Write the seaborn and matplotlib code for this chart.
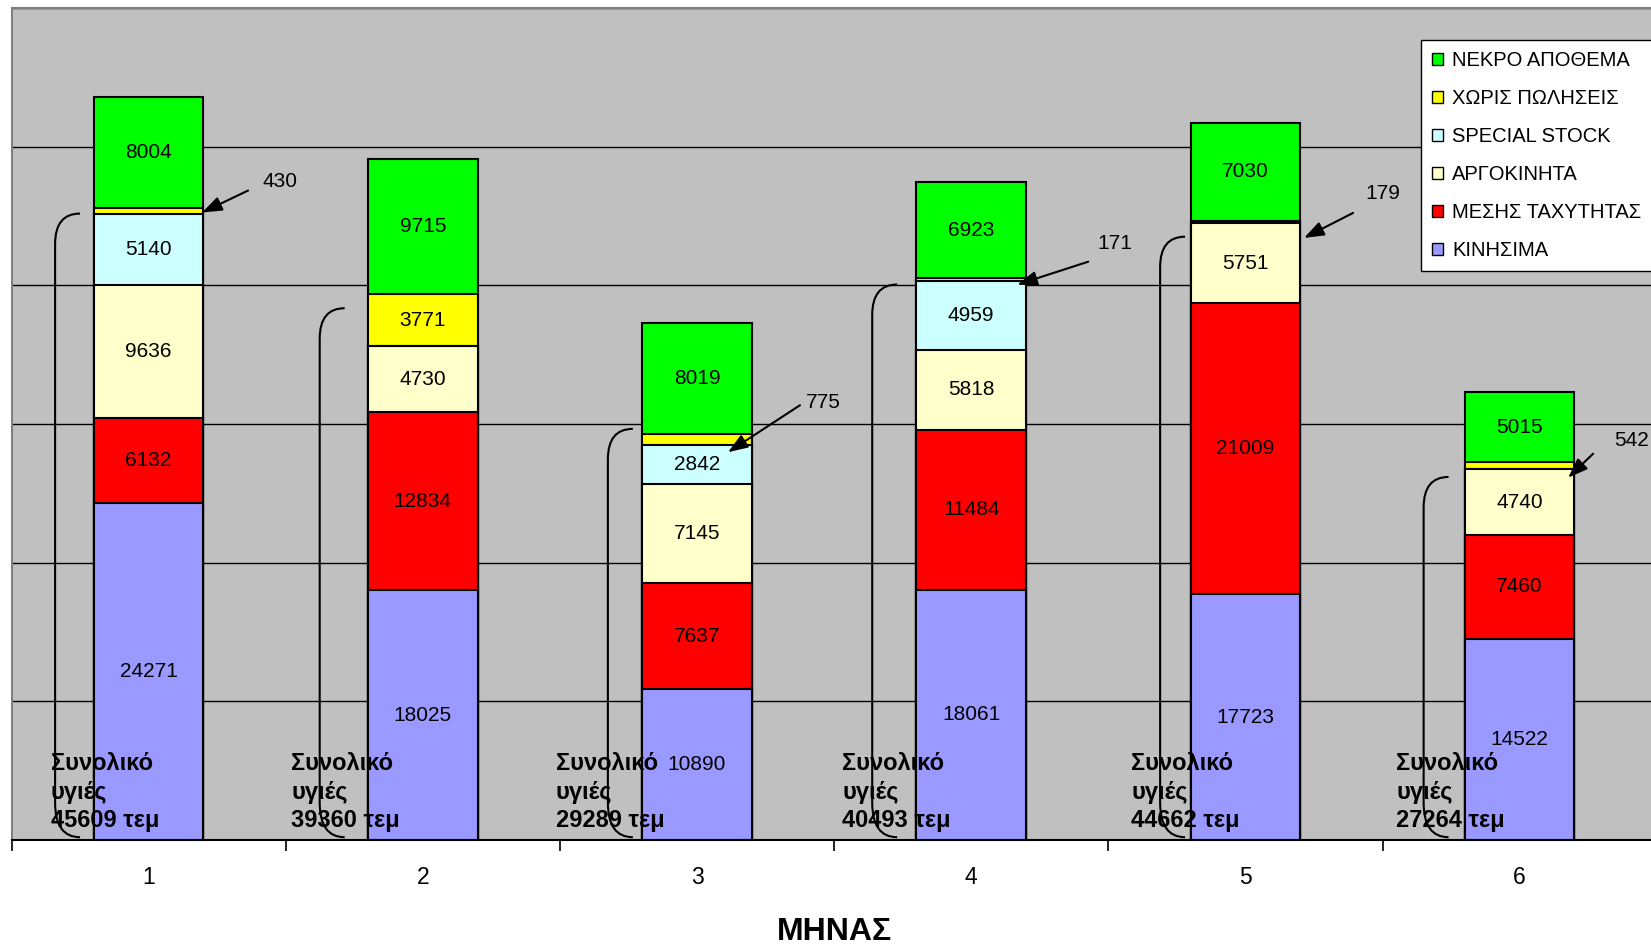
import matplotlib
matplotlib.use("Agg")
import matplotlib.pyplot as plt
import seaborn as sns
import numpy as np
from matplotlib.path import Path
from matplotlib.patches import PathPatch, Patch

# ---------------- data ----------------
months = ["1", "2", "3", "4", "5", "6"]
kinisima = [24271, 18025, 10890, 18061, 17723, 14522]
mesis_taxytitas = [6132, 12834, 7637, 11484, 21009, 7460]
argokinita = [9636, 4730, 7145, 5818, 5751, 4740]
special_stock = [5140, 0, 2842, 4959, 0, 0]
xoris_poliseis = [430, 3771, 775, 171, 179, 542]
nekro_apothema = [8004, 9715, 8019, 6923, 7030, 5015]

series_names = ["ΚΙΝΗΣΙΜΑ", "ΜΕΣΗΣ ΤΑΧΥΤΗΤΑΣ", "ΑΡΓΟΚΙΝΗΤΑ",
                "SPECIAL STOCK", "ΧΩΡΙΣ ΠΩΛΗΣΕΙΣ", "ΝΕΚΡΟ ΑΠΟΘΕΜΑ"]
series_vals = [kinisima, mesis_taxytitas, argokinita,
               special_stock, xoris_poliseis, nekro_apothema]
series_colors = ["#9999FF", "#FF0000", "#FFFFCC", "#CCFFFF", "#FFFF00", "#00FF00"]

x_label = "ΜΗΝΑΣ"
total_fmt = "Συνολικό\nυγιές\n{} τεμ"

# ---------------- figure ----------------
sns.set_style("white")
plt.rcParams["font.family"] = ["Liberation Sans", "DejaVu Sans"]
plt.rcParams["text.color"] = "black"
plt.rcParams["axes.labelcolor"] = "black"
plt.rcParams["xtick.color"] = "black"
plt.rcParams["ytick.color"] = "black"

W, H = 1651, 947
fig = plt.figure(figsize=(W / 100, H / 100), dpi=100)
ax = fig.add_axes([11.5 / W, 107 / H, 1645.2 / W, 832 / H])
ax.set_facecolor("#C0C0C0")

vals = np.array(series_vals, dtype=float)
cum = np.cumsum(vals, axis=0)
bottoms = cum - vals

# stacked bars: draw cumulative totals from the top series down
for k in reversed(range(len(series_names))):
    sns.barplot(x=months, y=cum[k], color=series_colors[k], saturation=1,
                width=0.4, edgecolor="black", linewidth=1.5, errorbar=None,
                ax=ax, zorder=2)

ax.set_xlim(-0.5, 5.5)
ax.set_ylim(0, 60000)
ax.set_yticks(np.arange(0, 60001, 10000))
ax.yaxis.grid(True, color="black", linewidth=1)
ax.xaxis.grid(False)
ax.set_axisbelow(True)
ax.tick_params(axis="y", length=0, labelleft=False)
ax.set_ylabel("")

# x ticks: labels at centres, tick marks between categories
ax.set_xticks(range(len(months)))
ax.set_xticklabels(months, fontsize=16.5, color="black")
ax.set_xticks(np.arange(-0.5, len(months) + 0.5, 1), minor=True)
ax.tick_params(axis="x", which="major", length=0, pad=18.5)
ax.tick_params(axis="x", which="minor", length=8, width=1.2, color="black",
               direction="out", bottom=True)
ax.set_xlabel(x_label, fontsize=23, fontweight="bold", color="black")
ax.xaxis.set_label_coords(0.5, -(932 - 840) / 832)
ax.xaxis.label.set_va("center")

for side in ["left", "top", "right"]:
    ax.spines[side].set_color("#808080")
    ax.spines[side].set_linewidth(1.5)
ax.spines["bottom"].set_color("black")
ax.spines["bottom"].set_linewidth(1.5)

# segment labels
for k in range(len(series_names)):
    for i in range(len(months)):
        v = vals[k, i]
        if v >= 1000:
            ax.text(i, bottoms[k, i] + v / 2, f"{int(v)}", ha="center",
                    va="center", fontsize=15, color="black", zorder=4)

# arrows for the small "ΧΩΡΙΣ ΠΩΛΗΣΕΙΣ" values
# (bar index, tip dx, tip dy px, tail offset px, text offset px)
arrow_layout = [
    (0, 0.195, -2, (46, 22), (60, 31)),
    (2, 0.113, -13, (72, 47), (78, 50)),
    (3, 0.168, -5, (71, 23), (80, 41)),
    (4, 0.214, -16, (49, 25), (61, 44)),
    (5, 0.177, -12, (25, 24), (46, 37)),
]
ypx = 832 / 60000.0
k_y = 4
for i, dx, dy, tail, toff in arrow_layout:
    tip = (i + dx, bottoms[k_y, i] + vals[k_y, i] / 2 + dy / ypx)
    ax.annotate("", xy=tip, xytext=tail, textcoords="offset pixels",
                arrowprops=dict(arrowstyle="-|>,head_length=0.6,head_width=0.22",
                                mutation_scale=20, color="black", lw=1.5,
                                shrinkA=0, shrinkB=0),
                zorder=5, annotation_clip=False)
    ax.annotate(f"{int(vals[k_y, i])}", xy=tip, xytext=toff,
                textcoords="offset pixels", ha="left", va="center",
                fontsize=15, color="black", zorder=5, annotation_clip=False)

# braces and totals of healthy stock
# per bar: brace x offset, brace top offset (px), text x offset
brace_layout = [
    (-0.341, -6, -0.356),
    (-0.376, -14, -0.479),
    (-0.325, 5, -0.516),
    (-0.361, -6, -0.471),
    (-0.311, -16, -0.417),
    (-0.350, -15, -0.450),
]
healthy = vals[:5].sum(axis=0)
for i, (bdx, tdy, tdx) in enumerate(brace_layout):
    x0 = i + bdx
    x1 = x0 + 0.091
    ytop = healthy[i] + tdy / ypx
    verts = [(x1, ytop), (x0, ytop), (x0, ytop - 2200),
             (x0, 2700), (x0, 200), (x1, 200)]
    codes = [Path.MOVETO, Path.CURVE3, Path.CURVE3,
             Path.LINETO, Path.CURVE3, Path.CURVE3]
    ax.add_patch(PathPatch(Path(verts, codes), facecolor="none",
                           edgecolor="black", lw=1.5, zorder=3))
    ax.text(i + tdx, 3460, total_fmt.format(int(healthy[i])),
            ha="left", va="center", fontsize=17, fontweight="bold",
            color="black", linespacing=1.3, zorder=6)

# legend
handles = [Patch(facecolor=series_colors[k], edgecolor="black", linewidth=1,
                 label=series_names[k]) for k in reversed(range(len(series_names)))]
leg = fig.legend(handles=handles, loc="upper left",
                 bbox_to_anchor=(1421 / W, 1 - 40 / H), bbox_transform=fig.transFigure,
                 fontsize=14.5, frameon=True, fancybox=False, framealpha=1,
                 edgecolor="black", borderpad=0.55, labelspacing=0.94,
                 handlelength=0.55, handleheight=0.55, handletextpad=0.45,
                 borderaxespad=0)
leg.get_frame().set_linewidth(1)
for t in leg.get_texts():
    t.set_color("black")

fig.savefig("out.png", dpi=100, facecolor="white")
